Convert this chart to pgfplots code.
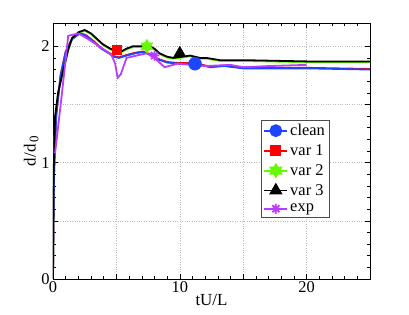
\documentclass[border=0pt]{standalone}
\usepackage{fontspec}
\setmainfont{Liberation Serif}
\usepackage{pgfplots}
\pgfplotsset{compat=1.18}
\usetikzlibrary{calc}
\definecolor{cblue}{RGB}{30,70,255}
\definecolor{cpurple}{RGB}{185,60,255}
\definecolor{cgreen}{RGB}{100,250,0}
\definecolor{cred}{RGB}{255,0,0}
\pgfdeclareplotmark{hexagram}{%
  \pgfpathmoveto{\pgfqpointpolar{90}{\pgfplotmarksize}}%
  \pgfpathlineto{\pgfqpointpolar{210}{\pgfplotmarksize}}%
  \pgfpathlineto{\pgfqpointpolar{330}{\pgfplotmarksize}}%
  \pgfpathclose
  \pgfpathmoveto{\pgfqpointpolar{30}{\pgfplotmarksize}}%
  \pgfpathlineto{\pgfqpointpolar{150}{\pgfplotmarksize}}%
  \pgfpathlineto{\pgfqpointpolar{270}{\pgfplotmarksize}}%
  \pgfpathclose
  \pgfusepathqfillstroke}
\pgfdeclareplotmark{mstar}{%
  \pgfpathmoveto{\pgfqpointpolar{0}{\pgfplotmarksize}}\pgfpathlineto{\pgfqpointpolar{180}{\pgfplotmarksize}}%
  \pgfpathmoveto{\pgfqpointpolar{90}{\pgfplotmarksize}}\pgfpathlineto{\pgfqpointpolar{270}{\pgfplotmarksize}}%
  \pgfpathmoveto{\pgfqpointpolar{45}{\pgfplotmarksize}}\pgfpathlineto{\pgfqpointpolar{225}{\pgfplotmarksize}}%
  \pgfpathmoveto{\pgfqpointpolar{135}{\pgfplotmarksize}}\pgfpathlineto{\pgfqpointpolar{315}{\pgfplotmarksize}}%
  \pgfusepathqstroke}
\pgfplotstableread{
x y
0 0
0.05 0.9
0.16 1.39
0.4 1.6
0.8 1.79
1.2 1.97
1.5 2.07
2.0 2.12
2.5 2.14
3.0 2.11
3.5 2.06
3.9 2.02
4.5 1.98
5.0 1.96
5.3 1.95
5.8 1.98
6.3 2.0
7.0 2.0
7.6 2.0
8.0 1.98
8.4 1.94
9.0 1.91
9.5 1.90
10.2 1.91
10.8 1.92
11.6 1.90
12.1 1.90
13.2 1.88
15.3 1.88
20 1.87
25 1.87
}\blackdata
\pgfplotstableread{
x y
0 0
0.05 0.9
0.17 1.39
0.41 1.6
0.81 1.79
1.21 1.97
1.52 2.065
2.02 2.115
2.52 2.133
3.02 2.103
3.52 2.053
3.92 2.013
4.5 1.973
5.0 1.953
5.3 1.943
5.8 1.973
6.3 1.993
7.0 1.993
7.6 1.993
8.0 1.973
8.4 1.933
9.0 1.903
9.5 1.893
10.2 1.903
10.8 1.913
11.6 1.893
12.1 1.893
13.2 1.873
15.3 1.873
20 1.863
25 1.863
}\greendata
\pgfplotstableread{
x y
0 0
0.08 0.9
0.25 1.4
0.6 1.75
1.0 1.95
1.5 2.06
2.1 2.11
2.6 2.09
3.2 2.04
3.8 1.98
4.4 1.94
4.8 1.91
5.2 1.90
5.8 1.92
6.5 1.94
7.1 1.95
7.6 1.93
8.2 1.89
9.0 1.86
10.0 1.85
11.2 1.85
12.4 1.82
13.5 1.83
15 1.81
20 1.81
25 1.80
}\bluedata
\pgfplotstableread{
x y
0 0
0.08 0.9
0.25 1.405
0.6 1.755
1.0 1.955
1.5 2.065
2.1 2.115
2.6 2.095
3.2 2.045
3.8 1.985
4.4 1.945
4.8 1.915
5.2 1.905
5.8 1.925
6.5 1.945
7.1 1.955
7.6 1.935
8.2 1.895
9.0 1.865
10.0 1.855
11.2 1.855
12.4 1.825
13.5 1.835
15 1.815
20 1.815
25 1.805
}\reddata
\pgfplotstableread{
x y
0.16 1.08
0.68 1.57
1.2 2.09
2.0 2.11
2.8 2.06
3.5 2.01
4.3 1.95
4.6 1.93
4.9 1.85
5.1 1.73
5.35 1.76
5.8 1.90
6.6 1.92
7.4 1.94
8.0 1.90
8.8 1.82
9.8 1.85
11 1.84
12 1.83
14 1.84
15 1.82
17 1.83
20 1.84
}\purpledata
\begin{document}
\begin{tikzpicture}
\begin{axis}[
  name=ax,
  scale only axis,
  width=317bp, height=256bp,
  xmin=0, xmax=25, ymin=0, ymax=2.2,
  xtick={0,5,...,25}, xticklabels={0,,10,,20,},
  ytick={0,0.5,...,2}, yticklabels={0,,1,,2},
  minor x tick num=4, minor y tick num=4,
  tick align=inside,
  major tick length=5bp, minor tick length=3bp,
  xmajorgrids, ymajorgrids,
  major grid style={dotted, gray!55, line width=0.5pt},
  axis line style={line width=0.7pt},
  every tick/.style={black, line width=0.5pt},
  /pgf/number format/assume math mode=true,
  tick label style={font=\fontsize{16.5}{19}\selectfont},
  xticklabel style={yshift=1bp},
  label style={font=\fontsize{17}{20}\selectfont},
  xlabel={tU/L},
  ylabel={d/d\raisebox{-0.35ex}{\fontsize{13}{14}\selectfont\,0}},
  xlabel style={yshift=5bp},
  ylabel style={yshift=-4bp},
  legend style={at={(0.871,0.621)}, anchor=north east, draw=black!70,
    font=\fontsize{16.5}{19}\selectfont, row sep=3.5bp, inner sep=2bp,
    cells={anchor=west}},
  legend image code/.code={\draw[mark repeat=2,mark phase=2] plot coordinates {(0bp,0bp)(11.5bp,0bp)(23bp,0bp)};},
]
\addlegendimage{cblue, line width=1.8pt, mark=*, mark size=5.5bp, mark options={solid}}
\addlegendimage{cred, line width=1.8pt, mark=square*, mark size=4.5bp}
\addlegendimage{cgreen, line width=1.8pt, mark=hexagram, mark size=6bp}
\addlegendimage{black, line width=1.8pt, mark=triangle*, mark size=6bp}
\addlegendimage{cpurple, line width=1.8pt, mark=mstar, mark size=5bp}
\legend{clean,var 1,var 2,var 3,exp}
\addplot[forget plot, cred, line width=1.8pt] table {\reddata};
\addplot[forget plot, cgreen, line width=1.8pt] table {\greendata};
\addplot[forget plot, cblue, line width=1.8pt] table {\bluedata};
\addplot[forget plot, black, line width=1.8pt] table {\blackdata};
\addplot[forget plot, cpurple, line width=1.8pt] table {\purpledata};
\addplot[forget plot, only marks, cred, mark=square*, mark size=4.5bp] coordinates {(5.0,1.97)};
\addplot[forget plot, only marks, cgreen, mark=hexagram, mark size=7bp] coordinates {(7.4,2.0)};
\addplot[forget plot, only marks, black, mark=triangle*, mark size=7bp] coordinates {(10.0,1.94)};
\addplot[forget plot, only marks, cblue, mark=*, mark size=6.5bp] coordinates {(11.2,1.85)};
\addplot[forget plot, only marks, cpurple, mark=mstar, mark size=5bp, line width=1.8pt] coordinates {(8.0,1.92)};
\end{axis}
\pgfresetboundingbox
\path[use as bounding box] ($(ax.south west)+(-53bp,-36bp)$) rectangle ($(ax.north east)+(39bp,23bp)$);
\end{tikzpicture}
\end{document}
